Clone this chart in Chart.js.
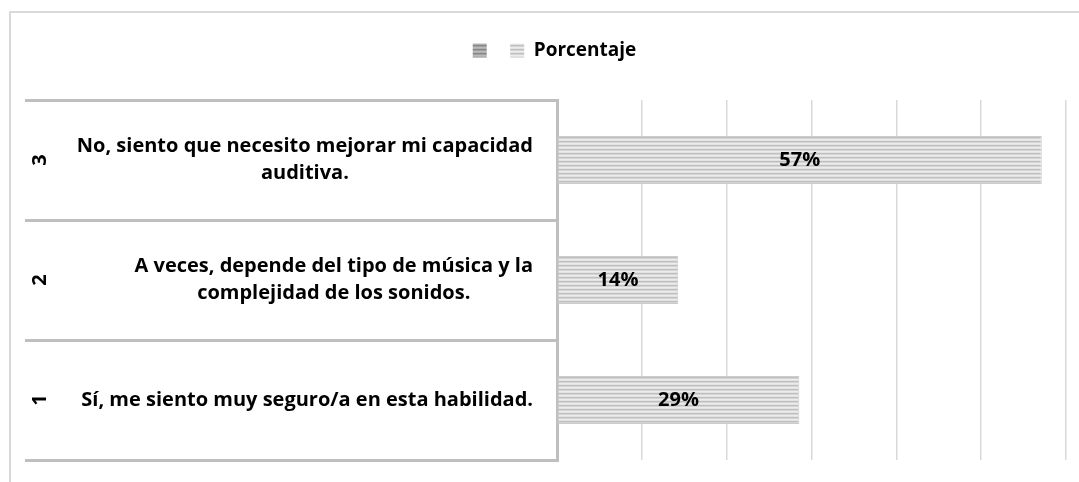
<!DOCTYPE html>
<html>
<head>
<meta charset="utf-8">
<script src="https://cdn.jsdelivr.net/npm/chart.js@4/dist/chart.umd.min.js"></script>
<style>
  body{ margin:0; background:#fff; }
  #wrap{ position:relative; width:1079px; height:482px; }
  #frame{
    position:absolute; left:9px; top:11px; right:0; bottom:0;
    border-left:2px solid #d9d9d9; border-top:2px solid #d9d9d9;
  }
  #chart{ position:absolute; left:0; top:0; }
</style>
</head>
<body>
<div id="wrap">
  <div id="frame"></div>
  <canvas id="chart" width="1079" height="482"></canvas>
</div>
<script>
/* ==========================================
   DATA
========================================== */
const codes = ["1","2","3"];

const answers = [
  ["Sí, me siento muy seguro/a en esta habilidad."],
  ["A veces, depende del tipo de música y la","complejidad de los sonidos."],
  ["No, siento que necesito mejorar mi capacidad","auditiva."]
];

const porcentaje = [28.57, 14.29, 57.14];

const seriesName = "Porcentaje";

const FONT = "'Open Sans'";

/* ==========================================
   STRIPE PATTERNS
========================================== */
function stripes(colors){

  const c = document.createElement("canvas");
  c.width = 4;
  c.height = colors.length;
  const g = c.getContext("2d");

  colors.forEach((col,i)=>{
    g.fillStyle = col;
    g.fillRect(0,i,4,1);
  });

  return g.createPattern(c,"repeat");

}

const lightFill = stripes(["#e2e2e2","#bfbfbf","#d4d4d4","#ececec"]);
const darkFill  = stripes(["#b0b0b0","#868686","#a0a0a0","#bababa"]);

/* ==========================================
   LABELS ON THE LEFT (codes + answers)
========================================== */
const answerLabels = {
  id:"answerLabels",
  afterDraw(chart){

    const ctx = chart.ctx;
    const y = chart.scales.y;
    const left = chart.chartArea.left;

    ctx.save();
    ctx.fillStyle = "#000";
    ctx.font = "bold 20px " + FONT;
    ctx.textBaseline = "middle";
    ctx.textAlign = "center";

    codes.forEach((code,i)=>{

      const cy = y.getPixelForValue(i);

      // rotated code number
      ctx.save();
      ctx.translate(40, cy);
      ctx.rotate(-Math.PI/2);
      ctx.fillText(code,0,0);
      ctx.restore();

      // answer text, block right-aligned, lines centred
      const lines = answers[i];
      const maxW = Math.max(...lines.map(l=>ctx.measureText(l).width));
      const cx = left - 24 - maxW/2;
      const lh = 27;

      lines.forEach((l,j)=>{
        ctx.fillText(l, cx, cy + (j-(lines.length-1)/2)*lh);
      });

    });

    ctx.restore();

  }
};

/* ==========================================
   VALUE LABELS INSIDE BARS
========================================== */
const valueLabels = {
  id:"valueLabels",
  afterDatasetsDraw(chart){

    const ctx = chart.ctx;
    const meta = chart.getDatasetMeta(0);

    ctx.save();
    ctx.fillStyle = "#000";
    ctx.font = "bold 20px " + FONT;
    ctx.textAlign = "center";
    ctx.textBaseline = "middle";

    meta.data.forEach((bar,i)=>{
      ctx.fillText(
        Math.round(porcentaje[i]) + "%",
        (bar.x + bar.base)/2,
        bar.y
      );
    });

    ctx.restore();

  }
};

/* ==========================================
   CHART
========================================== */
Chart.defaults.color = "#000";
Chart.defaults.font.family = FONT;

new Chart(
  document.getElementById("chart"),
  {
    type:"bar",
    data:{
      labels:codes,
      datasets:[
        {
          label:seriesName,
          data:porcentaje,
          backgroundColor:lightFill,
          borderColor:"#cccccc",
          borderWidth:1,
          borderSkipped:false,
          barPercentage:0.4,
          categoryPercentage:1
        }
      ]
    },
    options:{
      indexAxis:"y",
      responsive:false,
      animation:false,
      layout:{
        padding:{ top:27, left:43, right:13, bottom:22 }
      },
      plugins:{
        tooltip:{ enabled:false },
        legend:{
          position:"top",
          labels:{
            boxWidth:14,
            boxHeight:14,
            padding:14,
            font:{ size:19, weight:"bold" },
            generateLabels(){
              return [
                { text:"", fillStyle:darkFill, strokeStyle:"rgba(0,0,0,0)", lineWidth:0 },
                { text:seriesName, fillStyle:lightFill, strokeStyle:"rgba(0,0,0,0)", lineWidth:0 }
              ];
            }
          }
        }
      },
      scales:{
        x:{
          position:"top",
          min:0,
          max:60,
          ticks:{ display:false, stepSize:10 },
          grid:{ color:"#d9d9d9", lineWidth:1.5, drawTicks:false },
          border:{ display:false },
          afterFit(s){ s.height = 30; }
        },
        y:{
          reverse:true,
          ticks:{ display:false },
          grid:{
            offset:true,
            drawOnChartArea:false,
            drawTicks:true,
            tickLength:532,
            color:"#bfbfbf",
            lineWidth:3
          },
          border:{ display:true, color:"#bfbfbf", width:3 },
          afterFit(s){ s.width = 514; }
        }
      }
    },
    plugins:[answerLabels, valueLabels]
  }
);
</script>
</body>
</html>
